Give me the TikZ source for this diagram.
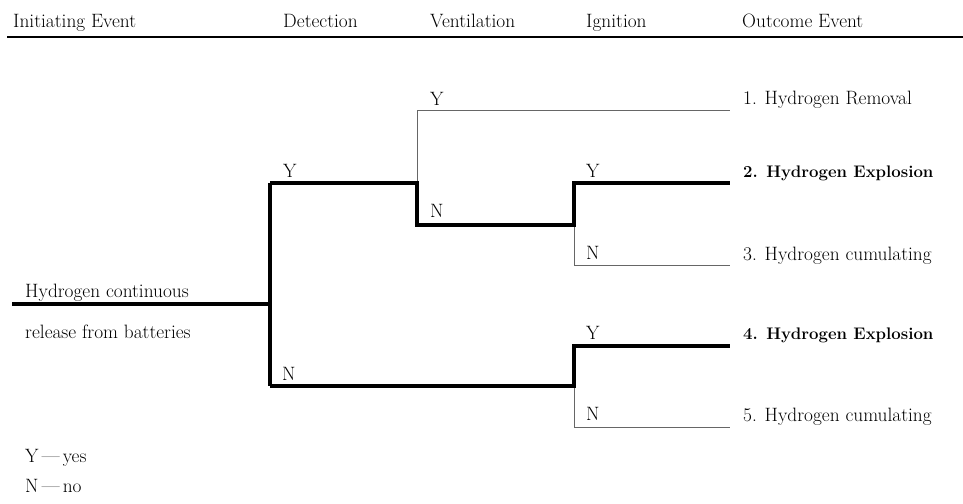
\documentclass[tikz,border=0pt]{standalone}
\usepackage{tikz}
\usetikzlibrary{calc}
\tikzstyle{lbl} = [anchor=base west, inner sep=0pt, font=\fontsize{16.5}{19}\selectfont]
\tikzstyle{outc} = [lbl]
\tikzstyle{boldoutc} = [lbl, font=\fontsize{14.3}{18}\selectfont\bfseries]
\tikzstyle{heavy} = [line width=2.8pt, line join=miter]
\tikzstyle{light} = [line width=0.7pt, draw=black!60, line join=miter]

\begin{document}
\begin{tikzpicture}[x=0.03cm, y=-0.03cm]
    \useasboundingbox (0,0) rectangle (963,503);

    % header row
    \node (hinit) [lbl] at (13,27) {Initiating Event};
    \node (hdet) [lbl] at (283,27) {Detection};
    \node (hvent) [lbl] at (430,27) {Ventilation};
    \node (hign) [lbl] at (586,27) {Ignition};
    \node (hout) [lbl] at (742,27) {Outcome Event};
    \coordinate (rulel) at (7,37);
    \coordinate (ruler) at (963,37);
    \draw [line width=2pt] (rulel) -- (ruler);

    % initiating event
    \node (init1) [lbl] at (25,297) {Hydrogen continuous};
    \node (init2) [lbl] at (25,338) {release from batteries};
    \coordinate (start) at (12,304);

    % branch points
    \coordinate (det) at (270,304);
    \coordinate (detY) at (270,183);
    \coordinate (detN) at (270,386);
    \coordinate (vent) at (417,183);
    \coordinate (ventY) at (417,110);
    \coordinate (ventN) at (417,225);
    \coordinate (ign1) at (574,225);
    \coordinate (ign1Y) at (574,183);
    \coordinate (ign1N) at (574,265);
    \coordinate (ign2) at (574,386);
    \coordinate (ign2Y) at (574,346);
    \coordinate (ign2N) at (574,427);

    % outcomes
    \node (o1) [outc] at (743,104) {1. Hydrogen Removal};
    \node (o2) [boldoutc] at (743,177) {2. Hydrogen Explosion};
    \node (o3) [outc] at (743,260) {3. Hydrogen cumulating};
    \node (o4) [boldoutc] at (743,339) {4. Hydrogen Explosion};
    \node (o5) [outc] at (743,421) {5. Hydrogen cumulating};
    \coordinate (e1) at (730,110);
    \coordinate (e2) at (730,183);
    \coordinate (e3) at (730,265);
    \coordinate (e4) at (730,346);
    \coordinate (e5) at (730,427);

    % Y/N labels
    \node (ydet) [lbl] at (283,177) {Y};
    \node (ndet) [lbl] at (282,380) {N};
    \node (yvent) [lbl] at (430,105) {Y};
    \node (nvent) [lbl] at (430,217) {N};
    \node (yign1) [lbl] at (586,177) {Y};
    \node (nign1) [lbl] at (586,259) {N};
    \node (yign2) [lbl] at (586,339) {Y};
    \node (nign2) [lbl] at (586,420) {N};

    % thin branches
    \draw [light] (vent) -- (ventY) -- (e1);
    \draw [light] (ign1) -- (ign1N) -- (e3);
    \draw [light] (ign2) -- (ign2N) -- (e5);

    % heavy path
    \draw [heavy] (start) -- (det);
    \draw [heavy] (detY) -- (detN);
    \draw [heavy] (detY) -- (vent) -- (ventN) -- (ign1) -- (ign1Y) -- (e2);
    \draw [heavy] (detN) -- (ign2) -- (ign2Y) -- (e4);

    % legend
    \node (leg1) [lbl] at (25,462) {Y\,\textemdash\,yes};
    \node (leg2) [lbl] at (25,492) {N\,\textemdash\,no};
  \end{tikzpicture}
\end{document}
